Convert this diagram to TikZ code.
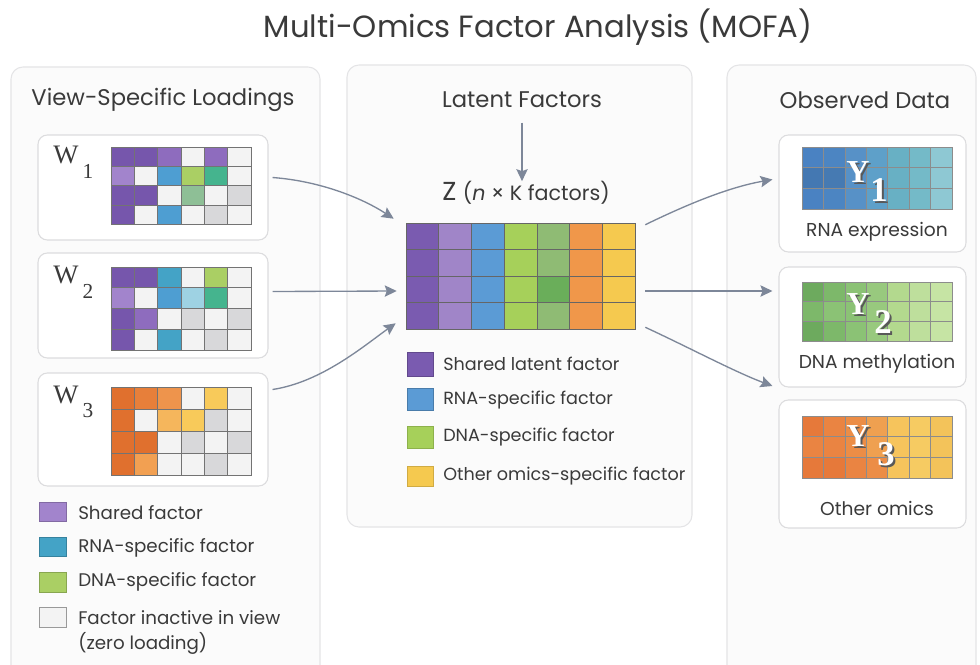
\documentclass[tikz,border=0pt]{standalone}
\usepackage{fontspec}
\setmainfont{Poppins}
\newfontfamily\wserif{Liberation Serif}
\usetikzlibrary{arrows.meta,fit,calc}

% palette
\definecolor{ink}{HTML}{3A3A3A}
\definecolor{panelfill}{HTML}{FBFBFB}
\definecolor{panelline}{HTML}{E4E4E6}
\definecolor{cardline}{HTML}{DCDCDE}
\definecolor{arrowc}{HTML}{7D8799}
\definecolor{pD}{HTML}{7656AC}
\definecolor{pM}{HTML}{8E6CBE}
\definecolor{pL}{HTML}{A284CC}
\definecolor{bl}{HTML}{4E9ED2}
\definecolor{tb}{HTML}{44A3C6}
\definecolor{lb}{HTML}{9ED2E3}
\definecolor{li}{HTML}{AACF64}
\definecolor{tg}{HTML}{45B48E}
\definecolor{sg}{HTML}{8EBF96}
\definecolor{gr}{HTML}{D8D8DA}
\definecolor{wh}{HTML}{F3F3F3}
\definecolor{oD}{HTML}{E0702E}
\definecolor{oM}{HTML}{E77F3A}
\definecolor{oL}{HTML}{EE944C}
\definecolor{oP}{HTML}{F2A052}
\definecolor{oA}{HTML}{F5B65C}
\definecolor{ye}{HTML}{F8CA5A}
% latent factor columns
\definecolor{zA}{HTML}{7A5BB0}
\definecolor{zB}{HTML}{A085C8}
\definecolor{zC}{HTML}{5B9BD5}
\definecolor{zD}{HTML}{A6D05A}
\definecolor{zE}{HTML}{8FBB74}
\definecolor{zEd}{HTML}{6AAE5A}
\definecolor{zF}{HTML}{F0974A}
\definecolor{zG}{HTML}{F5C94F}
% observed data columns
\definecolor{ra}{HTML}{4A82C2}\definecolor{rb}{HTML}{4C85C2}\definecolor{rc}{HTML}{5791C7}
\definecolor{rd}{HTML}{5EA0C9}\definecolor{re}{HTML}{68B0C4}\definecolor{rf}{HTML}{74BAC8}
\definecolor{rg}{HTML}{8EC8D3}
\definecolor{da}{HTML}{6DAA5E}\definecolor{db}{HTML}{7DB86A}\definecolor{dc}{HTML}{8BC275}
\definecolor{dd}{HTML}{98C97E}\definecolor{de}{HTML}{B3D98E}\definecolor{df}{HTML}{BEDF9C}
\definecolor{dg}{HTML}{C6E4A4}
\definecolor{qa}{HTML}{E6793A}\definecolor{qb}{HTML}{EA8442}\definecolor{qc}{HTML}{EC8D46}
\definecolor{qd}{HTML}{EFA050}\definecolor{qe}{HTML}{F6C45C}\definecolor{qf}{HTML}{F6CB62}
\definecolor{qg}{HTML}{F3C35A}

% a grid of coloured cells: x0, y0, cell width, cell height, rows, line style
\newcommand\heatmap[6]{%
  \foreach \rowspec [count=\r from 0] in {#5} {
    \foreach \cc [count=\k from 0] in \rowspec {
      \fill[\cc] ({#1+\k*#3},{#2+\r*#4}) rectangle ++(#3,#4);
    }
  }
  \foreach \rowspec [count=\r from 0] in {#5} {
    \foreach \cc [count=\k from 0] in \rowspec {
      \draw[#6] ({#1+\k*#3},{#2+\r*#4}) rectangle ++(#3,#4);
    }
  }
}

\tikzset{
  panel/.style={draw=panelline, fill=panelfill, line width=0.8pt, rounded corners=9pt},
  card/.style={draw=cardline, fill=white, line width=0.8pt, rounded corners=7pt, inner sep=0pt},
  head/.style={text=ink, font=\fontsize{17}{20}\selectfont},
  lbl/.style={text=ink, font=\fontsize{13.7}{16}\selectfont, anchor=west, inner sep=0pt},
  mlbl/.style={text=ink, font=\fontsize{13.2}{16}\selectfont, anchor=west, inner sep=0pt},
  clbl/.style={text=ink, font=\fontsize{14}{16}\selectfont, inner sep=0pt},
  wcell/.style={draw=black!55, line width=0.5pt},
  zcell/.style={draw=black!60, line width=0.5pt},
  ycell/.style={draw=black!45, line width=0.45pt},
  swatch/.style={line width=0.5pt},
  arr/.style={draw=arrowc, line width=1pt, -{Stealth[length=9pt,width=8.5pt,inset=1.5pt]}},
  wname/.style={text=ink, font=\wserif\fontsize{20}{22}\selectfont, inner sep=0pt},
  wsub/.style={text=ink, font=\wserif\fontsize{16}{18}\selectfont, inner sep=0pt},
  ybig/.style={text=white, font=\wserif\bfseries\fontsize{24}{26}\selectfont, inner sep=0pt},
  ysub/.style={text=white, font=\wserif\bfseries\fontsize{26}{28}\selectfont, inner sep=0pt},
  yshadow/.style={text=black!65, font=\wserif\bfseries\fontsize{24}{26}\selectfont, inner sep=0pt},
  yshsub/.style={text=black!65, font=\wserif\bfseries\fontsize{26}{28}\selectfont, inner sep=0pt},
}

\begin{document}
\begin{tikzpicture}[x=0.75pt,y=-0.75pt]
\useasboundingbox[fill=white] (0,0) rectangle (980,664);

% title
\node[text=ink, font=\fontsize{23}{27}\selectfont] (title) at (538,27) {Multi-Omics Factor Analysis (MOFA)};

% three panels
\draw[panel] (11,67) rectangle (320,680);
\draw[panel] (347,65) rectangle (692,527);
\draw[panel] (727,65) rectangle (976,680);

\node[head] (hLeft) at (163,100) {View-Specific Loadings};
\node[head] (hMid) at (522,100) {Latent Factors};
\node[head] (hRight) at (865,100) {Observed Data};

% ---------- loadings W ----------
\node[card, fit={(38,135) (268,240)}] (w1) {};
\node[card, fit={(38,253) (268,358)}] (w2) {};
\node[card, fit={(38,373) (268,486)}] (w3) {};

\heatmap{111}{147}{23.33}{19.3}{{pD,pD,pM,wh,pM,wh},{pL,wh,bl,li,tg,wh},{pD,pD,wh,sg,wh,gr},{pD,wh,bl,wh,gr,wh}}{wcell}
\heatmap{111}{267}{23.33}{20.8}{{pD,pD,tb,wh,li,wh},{pL,wh,bl,lb,tg,wh},{pD,pM,wh,gr,wh,gr},{pD,wh,tb,wh,gr,wh}}{wcell}
\heatmap{111}{387}{23.33}{22}{{oD,oM,oL,wh,ye,wh},{oD,wh,oA,ye,gr,wh},{oD,oD,wh,gr,wh,gr},{oD,oP,wh,wh,gr,wh}}{wcell}

\node[wname] (wn1) at (66,155) {W};
\node[wsub] (ws1) at (88,171) {1};
\node[wname] (wn2) at (66,275) {W};
\node[wsub] (ws2) at (88,291) {2};
\node[wname] (wn3) at (66,395) {W};
\node[wsub] (ws3) at (88,411) {3};

% left legend
\fill[pL, draw=pL!80!black, swatch] (39,502) rectangle (66,521);
\fill[tb, draw=tb!80!black, swatch] (39,537) rectangle (66,556);
\fill[li, draw=li!80!black, swatch] (39,572) rectangle (66,592);
\fill[wh, draw=black!40, swatch] (39,607) rectangle (66,627);
\node[lbl] (lg1) at (78,513) {Shared factor};
\node[lbl] (lg2) at (78,548) {RNA-specific factor};
\node[lbl] (lg3) at (78,582) {DNA-specific factor};
\node[lbl] (lg4) at (78,618) {Factor inactive in view};
\node[lbl] (lg5) at (78,643) {(zero loading)};

% ---------- latent factors Z ----------
\node[text=ink, inner sep=0pt] (zlab) at (526,193)
  {{\fontsize{19.5}{21}\selectfont Z}\hspace{5pt}{\fontsize{15.5}{17}\selectfont(\textit{n} × K factors)}};
\node[inner sep=0pt, fit={(406,223) (635,329)}] (Z) {};
\heatmap{406}{223}{32.71}{26.5}{{zA,zB,zC,zD,zE,zF,zG},{zA,zB,zC,zD,zE,zF,zG},{zA,zB,zC,zD,zEd,zF,zG},{zA,zB,zC,zD,zE,zF,zG}}{zcell}

\fill[zA, draw=zA!80!black, swatch] (407,352) rectangle (433,376);
\fill[zC, draw=zC!80!black, swatch] (407,388) rectangle (433,410);
\fill[zD, draw=zD!85!black, swatch] (407,426) rectangle (433,448);
\fill[zG, draw=zG!85!black, swatch] (407,466) rectangle (433,486);
\node[mlbl] (mg1) at (443,364) {Shared latent factor};
\node[mlbl] (mg2) at (443,400) {RNA-specific factor};
\node[mlbl] (mg3) at (443,437) {DNA-specific factor};
\node[mlbl] (mg4) at (443,476) {Other omics-specific factor};

% ---------- observed data Y ----------
\node[card, fit={(779,135) (966,252)}] (y1) {};
\node[card, fit={(779,267) (966,387)}] (y2) {};
\node[card, fit={(779,400) (966,528)}] (y3) {};

\heatmap{802}{147}{21.43}{20.7}{{ra,rb,rc,rd,re,rf,rg},{ra!92!black,rb!92!black,rc,rd,re,rf,rg},{ra,rb,rc,rd,re,rf,rg}}{ycell}
\heatmap{802}{282}{21.43}{19.7}{{da,db,dc,dd,de,df,dg},{db,dc,dc,dd,de,df,dg},{da,db,dc,dd,de,df,dg}}{ycell}
\heatmap{802}{416}{21.43}{20.7}{{qa,qb,qc,qd,qe,qf,qg},{qb,qb,qc,qd,qe,qf,qg},{qa,qa,qb,qc,qe,qf,qg}}{ycell}

\node[yshadow] (ys1s) at (860,174) {Y};
\node[yshsub] (yd1s) at (881,192) {1};
\node[ybig] (ys1) at (858,172) {Y};
\node[ysub] (yd1) at (879,190) {1};
\node[yshadow] (ys2s) at (860,306) {Y};
\node[yshsub] (yd2s) at (885,324) {2};
\node[ybig] (ys2) at (858,304) {Y};
\node[ysub] (yd2) at (883,322) {2};
\node[yshadow] (ys3s) at (860,438) {Y};
\node[yshsub] (yd3s) at (888,456) {3};
\node[ybig] (ys3) at (858,436) {Y};
\node[ysub] (yd3) at (886,454) {3};

\node[clbl] (yl1) at (877,232) {RNA expression};
\node[clbl] (yl2) at (877,364) {DNA methylation};
\node[clbl] (yl3) at (877,508) {Other omics};

% ---------- connectors ----------
\draw[arr] (hMid.south) ++(0,10) coordinate (dTop) (dTop) -- (zlab.north -| dTop);
\draw[arr] ($(w1.east)+(4,-10)$) .. controls (320,181) and (362,198) .. ($(Z.north west)+(-12,-4)$);
\draw[arr] ($(w2.east)+(4,-14)$) -- ($(Z.west)+(-9,15)$);
\draw[arr] ($(w3.east)+(4,-40)$) .. controls (322,382) and (365,345) .. ($(Z.south west)+(-10,-6)$);
\draw[arr] ($(Z.north east)+(10,2)$) .. controls (690,203) and (730,187) .. ($(y1.west)+(-6,-14)$);
\draw[arr] ($(Z.east)+(10,15)$) -- ($(y2.west)+(-6,-36)$);
\draw[arr] ($(Z.south east)+(10,-2)$) .. controls (690,348) and (735,372) .. ($(y3.west)+(-6,-78)$);
\end{tikzpicture}
\end{document}
